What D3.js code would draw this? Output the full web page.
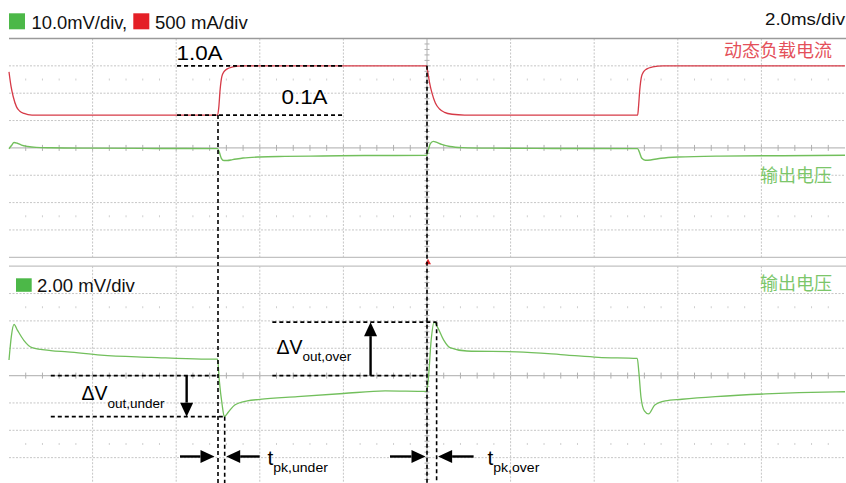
<!DOCTYPE html>
<html><head><meta charset="utf-8">
<script src="https://cdn.jsdelivr.net/npm/d3@7"></script>
<style>html,body{margin:0;padding:0;background:#fff;}svg{display:block;}</style>
</head><body>
<script>
// ---------------- DATA ----------------
// time in ms (2.0 ms/div, 10 divisions)
const timeDomain = [0, 20];
// load current (A), 500 mA/div
const currentT = [0,0.05,0.1,0.18,0.26,0.36,0.55, 4.99,5.02,5.05,5.09,5.14,5.21,5.35,5.6, 9.99,10.02,10.06,10.12,10.2,10.3,10.42,10.6,10.9, 15.04,15.06,15.09,15.13,15.18,15.25,15.4,15.65,20];
const currentA = [0.89,0.62,0.44,0.25,0.17,0.13,0.1, 0.1,0.25,0.56,0.8,0.89,0.94,0.98,1.0, 1.0,0.88,0.7,0.5,0.32,0.21,0.15,0.115,0.1, 0.1,0.25,0.56,0.8,0.89,0.94,0.98,1.0,1.0];
// output voltage deviation (mV), top panel 10.0 mV/div
const vTopT = [0,0.06,0.12,0.2,0.3,0.45,0.65,1.0,2.0,3.5,4.99, 5.03,5.08,5.14,5.22,5.35,5.6,6.0,6.6,7.5,8.5,9.99, 10.03,10.08,10.15,10.22,10.35,10.55,10.85,11.5,13.0,15.04, 15.08,15.14,15.22,15.35,15.6,16.0,17.0,18.5,20];
const vTopMV = [-0.3,0.9,2.0,1.7,1.0,0.5,0.2,0.05,-0.1,-0.2,-0.25, -1.5,-3.8,-4.6,-4.6,-4.3,-3.7,-3.3,-3.1,-2.95,-2.8,-2.7, -0.8,1.6,2.4,2.1,1.3,0.5,0.1,-0.1,-0.2,-0.25, -1.5,-3.8,-4.5,-4.4,-3.8,-3.35,-3.0,-2.85,-2.7];
// output voltage deviation (mV), bottom panel 2.00 mV/div
const vBotT = [0,0.06,0.12,0.2,0.35,0.55,1.0,1.4,2.2,3.4,4.6,4.99, 5.03,5.1,5.15,5.25,5.4,5.7,6.0,6.9,8.0,9.0,9.99, 10.03,10.1,10.17,10.25,10.4,10.55,10.95,12.15,13.35,14.1,15.03, 15.07,15.12,15.2,15.3,15.45,15.7,16.1,16.9,18.1,18.9,20];
const vBotMV = [1.14,2.96,3.74,3.33,2.6,2.05,1.83,1.74,1.5,1.34,1.21,1.21, -0.32,-2.15,-3.0,-2.66,-2.15,-1.85,-1.74,-1.54,-1.31,-1.12,-1.16, -0.32,2.6,3.91,3.55,2.6,2.05,1.8,1.74,1.5,1.34,1.26, 0.2,-1.6,-2.58,-2.8,-2.15,-1.85,-1.73,-1.54,-1.34,-1.25,-1.18];
// scale settings
const currentPerDiv = 0.5, vTopPerDiv = 10, vBotPerDiv = 2;
// labels
const legendTop = ["10.0mV/div,", "500 mA/div"];
const legendBot = "2.00 mV/div";
const timebaseLabel = "2.0ms/div";
const currentLabel = "动态负载电流";
const voltageLabel = "输出电压";
const levelLabels = ["1.0A", "0.1A"];
const levelValues = [1.0, 0.1];
// annotation values
const edgeTimes = [5.0, 10.0];
const peakUnder = {t: 5.16, mv: -3.0};
const peakOver = {t: 10.23, mv: 3.91};

// ---------------- SETUP ----------------
const W = 846, H = 483;
const X0 = 9, X1 = 845;
const divY = 27.35, topY0 = 38.5, botY0 = 266.2;
const LATIN = "'Helvetica Neue', Helvetica, 'Liberation Sans', Arial, sans-serif";
const CJK = "'Noto Sans CJK SC', 'Noto Sans CJK TC', sans-serif";
const RED = "#d63a47", GREEN = "#72bf5c";

const svg = d3.select("body").append("svg").attr("width", W).attr("height", H);

const x = d3.scaleLinear().domain(timeDomain).range([X0, X1]);
const yTopDiv = d3.scaleLinear().domain([4, -4]).range([topY0, topY0 + 8 * divY]);
const yBotDiv = d3.scaleLinear().domain([4, -4]).range([botY0, botY0 + 8 * divY]);
// current: 0 A sits one division above centre
const yCur = d3.scaleLinear().domain([0, currentPerDiv]).range([yTopDiv(1), yTopDiv(2)]);
const yVTop = d3.scaleLinear().domain([0, vTopPerDiv]).range([yTopDiv(0), yTopDiv(1)]);
const yVBot = d3.scaleLinear().domain([0, vBotPerDiv]).range([yBotDiv(0), yBotDiv(1)]);

const divX = (X1 - X0) / 10;

// ---------------- GRID ----------------
const grid = svg.append("g");
function drawPanel(yDiv, yStart, yEnd, topStroke) {
  // horizontal lines
  for (let k = -3; k <= 3; k++) {
    if (k === 0) continue;
    grid.append("line").attr("x1", X0).attr("x2", X1).attr("y1", yDiv(k)).attr("y2", yDiv(k))
      .attr("stroke", "#c6c6c6").attr("stroke-width", 1).attr("stroke-dasharray", "2,1.5");
  }
  // centre horizontal with ticks
  grid.append("line").attr("x1", X0).attr("x2", X1).attr("y1", yDiv(0)).attr("y2", yDiv(0))
    .attr("stroke", "#bcbcbc").attr("stroke-width", 1.2);
  for (let j = 1; j < 50; j++) {
    const xx = X0 + j * divX / 5;
    grid.append("line").attr("x1", xx).attr("x2", xx).attr("y1", yDiv(0) - 3).attr("y2", yDiv(0) + 3)
      .attr("stroke", "#b0b0b0").attr("stroke-width", 1);
    if (j % 5 !== 0) {
      [2.5, -2.5].forEach(k => {
        grid.append("line").attr("x1", xx).attr("x2", xx).attr("y1", yDiv(k) - 1).attr("y2", yDiv(k) + 1)
          .attr("stroke", "#cfcfcf").attr("stroke-width", 1);
      });
    }
  }
  // vertical lines
  for (let i = 1; i <= 9; i++) {
    const xx = X0 + i * divX;
    if (i === 5) {
      grid.append("line").attr("x1", xx).attr("x2", xx).attr("y1", yStart).attr("y2", yEnd)
        .attr("stroke", "#bcbcbc").attr("stroke-width", 1.2);
      for (let m = 1; m < 40; m++) {
        const yy = yStart + m * divY / 5;
        if (yy > yEnd) break;
        grid.append("line").attr("x1", xx - 2.5).attr("x2", xx + 2.5).attr("y1", yy).attr("y2", yy)
          .attr("stroke", "#b0b0b0").attr("stroke-width", 1);
      }
    } else {
      grid.append("line").attr("x1", xx).attr("x2", xx).attr("y1", yStart).attr("y2", yEnd)
        .attr("stroke", "#c6c6c6").attr("stroke-width", 1).attr("stroke-dasharray", "2,1.5");
    }
  }
  // top border
  grid.append("line").attr("x1", X0).attr("x2", W).attr("y1", yStart).attr("y2", yStart)
    .attr("stroke", topStroke.c).attr("stroke-width", topStroke.w);
}
drawPanel(yTopDiv, yTopDiv(4), yTopDiv(-4), {c: "#9a9a9a", w: 1.6});
drawPanel(yBotDiv, yBotDiv(4), H, {c: "#c2c2c2", w: 1.2});
// bottom border of top panel
grid.append("line").attr("x1", X0).attr("x2", W).attr("y1", yTopDiv(-4)).attr("y2", yTopDiv(-4))
  .attr("stroke", "#c2c2c2").attr("stroke-width", 1.2);

// ---------------- TRACES ----------------
const line = d3.line().curve(d3.curveMonotoneX);
svg.append("path").attr("d", line(currentT.map((t, i) => [x(t), yCur(currentA[i])])))
  .attr("fill", "none").attr("stroke", RED).attr("stroke-width", 1.3);
svg.append("path").attr("d", line(vTopT.map((t, i) => [x(t), yVTop(vTopMV[i])])))
  .attr("fill", "none").attr("stroke", GREEN).attr("stroke-width", 1.4);
svg.append("path").attr("d", line(vBotT.map((t, i) => [x(t), yVBot(vBotMV[i])])))
  .attr("fill", "none").attr("stroke", GREEN).attr("stroke-width", 1.3);

// trigger marker
const tx = x(edgeTimes[1]) + 1;
svg.append("path").attr("d", `M${tx},${yTopDiv(-4) + 1.5} L${tx - 3},${yTopDiv(-4) + 7} L${tx + 3},${yTopDiv(-4) + 7} Z`)
  .attr("fill", "#e0262a");

// ---------------- ANNOTATIONS ----------------
const ann = svg.append("g");
function dash(x1, y1, x2, y2) {
  ann.append("line").attr("x1", x1).attr("y1", y1).attr("x2", x2).attr("y2", y2)
    .attr("stroke", "#000").attr("stroke-width", 1.6).attr("stroke-dasharray", "4,3");
}
function arrow(x1, y1, x2, y2) {
  const L = 14, Wd = 6.5;
  const dx = x2 - x1, dy = y2 - y1, len = Math.hypot(dx, dy);
  const ux = dx / len, uy = dy / len;
  const bx = x2 - ux * L, by = y2 - uy * L;
  ann.append("line").attr("x1", x1).attr("y1", y1).attr("x2", bx).attr("y2", by)
    .attr("stroke", "#000").attr("stroke-width", 2.4);
  ann.append("path").attr("d", `M${x2},${y2} L${bx - uy * Wd},${by + ux * Wd} L${bx + uy * Wd},${by - ux * Wd} Z`)
    .attr("fill", "#000");
}
function text(xx, yy, s, size, fill, anchor, sx, family) {
  return svg.append("text").attr("transform", `translate(${xx},${yy}) scale(${sx},1)`)
    .attr("font-size", size).attr("fill", fill).attr("text-anchor", anchor)
    .attr("font-family", family).text(s);
}
function subText(xx, yy, main, sub, size, subSize, dy, sx) {
  const t = svg.append("text").attr("transform", `translate(${xx},${yy}) scale(${sx},1)`)
    .attr("font-family", LATIN).attr("fill", "#000");
  t.append("tspan").attr("font-size", size).text(main);
  t.append("tspan").attr("font-size", subSize).attr("dy", dy).text(sub);
  return t;
}

// current levels
levelValues.forEach(v => dash(x(4.02), yCur(v), x(8.03), yCur(v)));
text(176.5, 60, levelLabels[0], 20, "#000", "start", 1.12, LATIN);
text(281.5, 103.5, levelLabels[1], 20, "#000", "start", 1.12, LATIN);
// edge verticals
dash(x(edgeTimes[0]), yCur(levelValues[1]), x(edgeTimes[0]), H);
dash(x(edgeTimes[1]), yCur(levelValues[0]), x(edgeTimes[1]), H);
// undershoot
dash(x(1.0), yVBot(0), x(edgeTimes[0]), yVBot(0));
dash(x(1.0), yVBot(peakUnder.mv), x(peakUnder.t), yVBot(peakUnder.mv));
dash(x(peakUnder.t), yVBot(peakUnder.mv), x(peakUnder.t), H);
arrow(x(4.25), yVBot(0), x(4.25), yVBot(peakUnder.mv));
subText(81.5, 400, "ΔV", "out,under", 19.5, 13.5, 8, 1.0);
// overshoot
dash(x(6.3), yVBot(0), x(edgeTimes[1]), yVBot(0));
dash(x(6.3), yVBot(peakOver.mv), x(peakOver.t), yVBot(peakOver.mv));
dash(x(peakOver.t), yVBot(peakOver.mv), x(peakOver.t), H);
arrow(x(8.65), yVBot(0), x(8.65), yVBot(peakOver.mv));
subText(276.5, 353.5, "ΔV", "out,over", 19.5, 13.5, 7, 1.0);
// t_pk arrows
const ya = 456.5;
arrow(x(edgeTimes[0]) - 38, ya, x(edgeTimes[0]) - 3.5, ya);
arrow(x(peakUnder.t) + 35, ya, x(peakUnder.t) + 1.5, ya);
subText(267.5, 465, "t", "pk,under", 20, 13.5, 6.7, 1.04);
arrow(x(edgeTimes[1]) - 37, ya, x(edgeTimes[1]) - 1.5, ya);
arrow(x(peakOver.t) + 37, ya, x(peakOver.t) + 1.5, ya);
subText(487.5, 465, "t", "pk,over", 20, 13.5, 6.7, 1.04);

// ---------------- LEGENDS / LABELS ----------------
svg.append("rect").attr("x", 9).attr("y", 13.3).attr("width", 16).attr("height", 16).attr("fill", "#4cb848");
text(31.5, 29.3, legendTop[0], 17.5, "#111", "start", 1.05, LATIN);
svg.append("rect").attr("x", 133.3).attr("y", 13.3).attr("width", 16).attr("height", 16).attr("fill", "#e41f26");
text(155, 29.3, legendTop[1], 17.5, "#111", "start", 1.06, LATIN);
text(845, 25, timebaseLabel, 17, "#111", "end", 1.1, LATIN);
text(832, 57, currentLabel, 18, "#e4505a", "end", 1.0, CJK);
text(832, 182, voltageLabel, 18, "#7cc66a", "end", 1.0, CJK);
text(832, 290, voltageLabel, 18, "#7cc66a", "end", 1.0, CJK);
svg.append("rect").attr("x", 16).attr("y", 278.3).attr("width", 15.7).attr("height", 13.5).attr("fill", "#4cb848");
text(37, 291.5, legendBot, 17.5, "#111", "start", 1.06, LATIN);
</script>
</body></html>
